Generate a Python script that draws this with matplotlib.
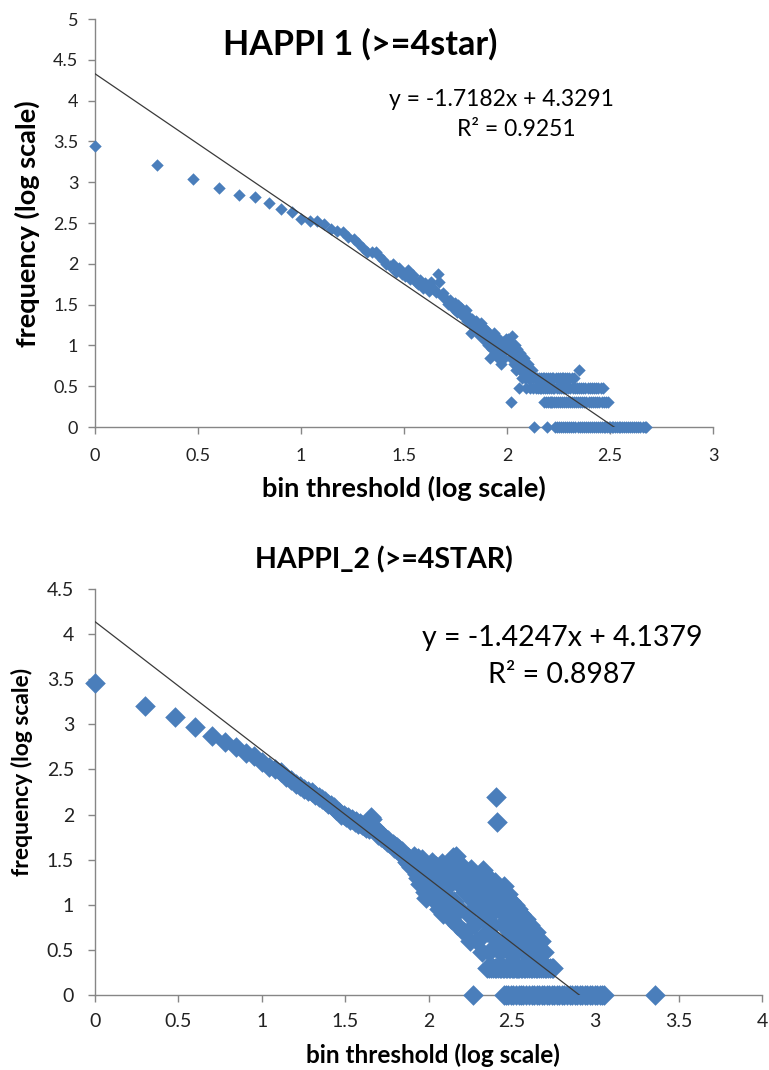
import numpy as np
import matplotlib
matplotlib.use("Agg")
import matplotlib.pyplot as plt

plt.rcParams['font.family'] = ['Lato', 'DejaVu Sans']

# ---------------- HAPPI 1 (>=4star) ----------------
# frequency for bin thresholds 1..100
top_counts_head = [
    2750, 1620, 1100, 850, 690, 660, 556, 468, 430, 355,
    330, 335, 310, 265, 255, 245, 215, 200, 180, 158,
    141, 138, 141, 126, 112, 100, 93, 100, 80, 89,
    76, 71, 85, 66, 72, 60, 56, 63, 50, 58,
    53, 46, 60, 49, 45, 74, 59, 41, 44, 38,
    35, 32, 36, 30, 28, 33, 26, 31, 25, 29,
    24, 22, 27, 20, 23, 19, 14, 21, 18, 16,
    20, 15, 17, 13, 19, 14, 12, 16, 11, 15,
    10, 13, 7, 12, 9, 14, 8, 11, 10, 7,
    12, 9, 6, 10, 8, 11, 7, 9, 12, 10,
]
# thresholds 101..135
top_counts_mid = [12, 9, 11, 7, 2, 13, 8, 6, 10, 7, 5, 9, 6, 3, 8, 5, 7, 4,
                  6, 5, 7, 4, 6, 3, 5, 4, 6, 4, 5, 3, 4, 5, 3, 4, 1]
# sparse tail: thresholds grouped by frequency
top_tail_5 = [224]
top_tail_4 = [137, 140, 143, 146, 149, 152, 155, 159, 162, 165, 168, 172, 176,
              180, 184, 188, 192, 196, 201, 206, 211]
top_tail_3 = [138, 141, 144, 147, 150, 153, 157, 160, 164, 167, 170, 174, 178,
              182, 186, 190, 194, 198, 203, 208, 213, 218, 223, 228, 234, 240,
              246, 252, 258, 264, 271, 278, 285, 292]
top_tail_2 = [151, 154, 158, 161, 163, 166, 169, 173, 177, 181, 185, 189, 193,
              197, 202, 207, 212, 216, 221, 226, 231, 237, 243, 249, 255, 261,
              267, 274, 281, 288, 295, 302, 308]
top_tail_1 = [156, 171, 175, 179, 183, 187, 191, 195, 199, 204, 209, 215, 220,
              225, 230, 236, 241, 247, 253, 259, 265, 270, 276, 282, 289, 296,
              300, 305, 311, 316, 322, 328, 334, 341, 348, 355, 363, 371, 379,
              387, 396, 405, 414, 424, 434, 444, 455, 466, 475]
top_fit = (-1.7182, 4.3291, 0.9251)

# ---------------- HAPPI_2 (>=4STAR) ----------------
bot_counts_head = [
    2880, 1585, 1200, 930, 741, 631, 562, 479, 447, 380,
    339, 316, 295, 263, 240, 219, 209, 191, 182, 178,
    166, 158, 148, 141, 132, 126, 120, 112, 107, 100,
    98, 93, 95, 87, 89, 83, 85, 79, 81, 76,
    74, 71, 77, 69, 93, 90, 72, 66, 63, 60,
    62, 56, 58, 53, 55, 50, 52, 48, 49, 46,
    47, 43, 45, 41, 44, 40, 42, 38, 39, 36,
    37, 33, 35, 30, 34, 28, 32, 26, 31, 29,
    27, 35, 24, 30, 22, 33, 20, 28, 17, 25,
    19, 32, 16, 26, 14, 21, 12, 18, 23, 13,
]
bot_cloud_thr = [101, 103, 105, 107, 109, 111, 113, 115, 117, 119, 121, 123,
                 125, 127, 129, 131, 133, 135, 137, 139, 141, 143, 145, 147,
                 149, 151, 153, 155, 157,
                 160, 163, 166, 169, 172, 175, 178, 181, 184, 187, 190, 193,
                 196, 199, 202, 205, 208, 211, 214, 217, 220, 223, 226, 229,
                 232, 235, 238, 241, 244, 247, 250, 254, 257,
                 253, 259, 262, 266, 270, 274, 278, 282, 286, 290, 294, 298,
                 302, 306, 310, 314, 318, 322, 326, 330, 334, 338, 342, 346,
                 350, 354,
                 358, 364, 370, 376, 383, 390, 397, 404, 411, 418, 426, 434,
                 442, 450, 458, 466, 474, 482, 490]
bot_cloud_cnt = [24, 13, 30, 16, 11, 27, 19, 9, 22, 14, 29, 8,
                 17, 25, 10, 20, 12, 26, 7, 18, 34, 11, 31, 35,
                 6, 28, 21, 9, 16,
                 26, 5, 14, 22, 8, 17, 4, 25, 11, 6, 19, 13,
                 4, 21, 9, 15, 3, 24, 7, 12, 18, 5, 10, 20,
                 3, 14, 8, 17, 6, 11, 18, 155, 83,
                 13, 4, 15, 9, 3, 12, 6, 16, 4, 10, 7, 13,
                 3, 9, 5, 11, 4, 8, 6, 10, 3, 7, 5, 9,
                 4, 6,
                 8, 4, 6, 3, 7, 5, 3, 6, 4, 5, 3, 4,
                 5, 3, 4, 4, 4, 3, 3]
bot_tail_2 = [225, 231, 237, 243, 249, 255, 261, 267, 273, 279, 285, 291, 297,
              303, 309, 315, 321, 327, 333, 339, 345, 351, 357, 365, 373, 381,
              389, 399, 409, 419, 429, 439, 449, 461, 473, 485, 497, 509, 521,
              535, 549, 561]
bot_tail_1 = [186, 283, 293, 301, 311, 323, 335, 347, 359, 371, 385, 401, 415,
              431, 447, 463, 479, 495, 513, 531, 551, 569, 589, 609, 631, 653,
              677, 701, 725, 751, 777, 805, 833, 863, 893, 925, 957, 991, 1025,
              1061, 1099, 1122, 2290]
bot_fit = (-1.4247, 4.1379, 0.8987)


def assemble(head, mid_start, mid, tails):
    thr = list(range(1, len(head) + 1))
    cnt = list(head)
    thr += list(range(mid_start, mid_start + len(mid)))
    cnt += list(mid)
    for c, t in tails.items():
        thr += t
        cnt += [c] * len(t)
    return np.log10(thr), np.log10(cnt)


top_x, top_y = assemble(top_counts_head, 101, top_counts_mid,
                        {5: top_tail_5, 4: top_tail_4, 3: top_tail_3,
                         2: top_tail_2, 1: top_tail_1})
bot_x, bot_y = assemble(bot_counts_head, 101, [], {})
bot_x = np.concatenate([bot_x, np.log10(bot_cloud_thr), np.log10(bot_tail_2),
                        np.log10(bot_tail_1)])
bot_y = np.concatenate([bot_y, np.log10(bot_cloud_cnt),
                        np.log10([2] * len(bot_tail_2)),
                        np.log10([1] * len(bot_tail_1))])

W, H = 769, 1070
fig = plt.figure(figsize=(W / 100, H / 100), dpi=100)
blue = '#4A7EBB'
grey = '#868686'


def style(ax, xmax, ymax, fs, xpad, ypad):
    for s in ['top', 'right']:
        ax.spines[s].set_visible(False)
    for s in ['left', 'bottom']:
        ax.spines[s].set_color(grey)
        ax.spines[s].set_linewidth(1)
    ax.set_xlim(0, xmax)
    ax.set_ylim(0, ymax)
    ax.set_xticks(np.arange(0, xmax + 0.01, 0.5))
    ax.set_yticks(np.arange(0, ymax + 0.01, 0.5))
    ax.xaxis.set_major_formatter(lambda v, p: f"{v:g}")
    ax.yaxis.set_major_formatter(lambda v, p: f"{v:g}")
    ax.tick_params(direction='out', length=5, width=1, color=grey,
                   labelsize=fs, labelcolor='#222222')
    ax.tick_params(axis='x', pad=xpad)
    ax.tick_params(axis='y', pad=ypad)


def fx(px):
    return px / W


def fy(py):
    return 1 - py / H


# top panel
ax1 = fig.add_axes([fx(95), fy(427), fx(713) - fx(95), fy(19) - fy(427)])
style(ax1, 3, 5, 13, 10, 7)
ax1.scatter(top_x, top_y, s=40, marker='D', color=blue, linewidths=0,
            clip_on=False, zorder=3)
xs = np.array([0, top_x.max()])
ax1.plot(xs, top_fit[0] * xs + top_fit[1], color='#3a3a3a', lw=0.9, zorder=4)
fig.text(fx(360), fy(44), 'HAPPI 1 (>=4star)', ha='center', va='center',
         fontsize=24.5, fontweight='bold')
fig.text(fx(501), fy(99), f'y = {top_fit[0]}x + {top_fit[1]}',
         ha='center', va='center', fontsize=16.5)
fig.text(fx(516), fy(130), f'R² = {top_fit[2]}', ha='center', va='center',
         fontsize=16.5)
fig.text(fx(404), fy(488), 'bin threshold (log scale)', ha='center',
         va='center', fontsize=19.5, fontweight='bold')
fig.text(fx(27), fy(224), 'frequency (log scale)', ha='center', va='center',
         rotation=90, fontsize=19.5, fontweight='bold')

# bottom panel
ax2 = fig.add_axes([fx(95), fy(995), fx(762) - fx(95), fy(589) - fy(995)])
style(ax2, 4, 4.5, 14, 8, 10)
ax2.scatter(bot_x, bot_y, s=110, marker='D', color=blue, linewidths=0,
            clip_on=False, zorder=3)
xs = np.array([0, bot_x.max()])
ax2.plot(xs, bot_fit[0] * xs + bot_fit[1], color='#3a3a3a', lw=0.9, zorder=4)
fig.text(fx(384), fy(560), 'HAPPI_2 (>=4STAR)', ha='center', va='center',
         fontsize=20.5, fontweight='bold')
fig.text(fx(562), fy(638), f'y = {bot_fit[0]}x + {bot_fit[1]}',
         ha='center', va='center', fontsize=20.5)
fig.text(fx(562), fy(675), f'R² = {bot_fit[2]}', ha='center', va='center',
         fontsize=20.5)
fig.text(fx(433), fy(1055), 'bin threshold (log scale)', ha='center',
         va='center', fontsize=17.5, fontweight='bold')
fig.text(fx(22), fy(772), 'frequency (log scale)', ha='center', va='center',
         rotation=90, fontsize=16.5, fontweight='bold')

fig.savefig('out.png', dpi=100)
